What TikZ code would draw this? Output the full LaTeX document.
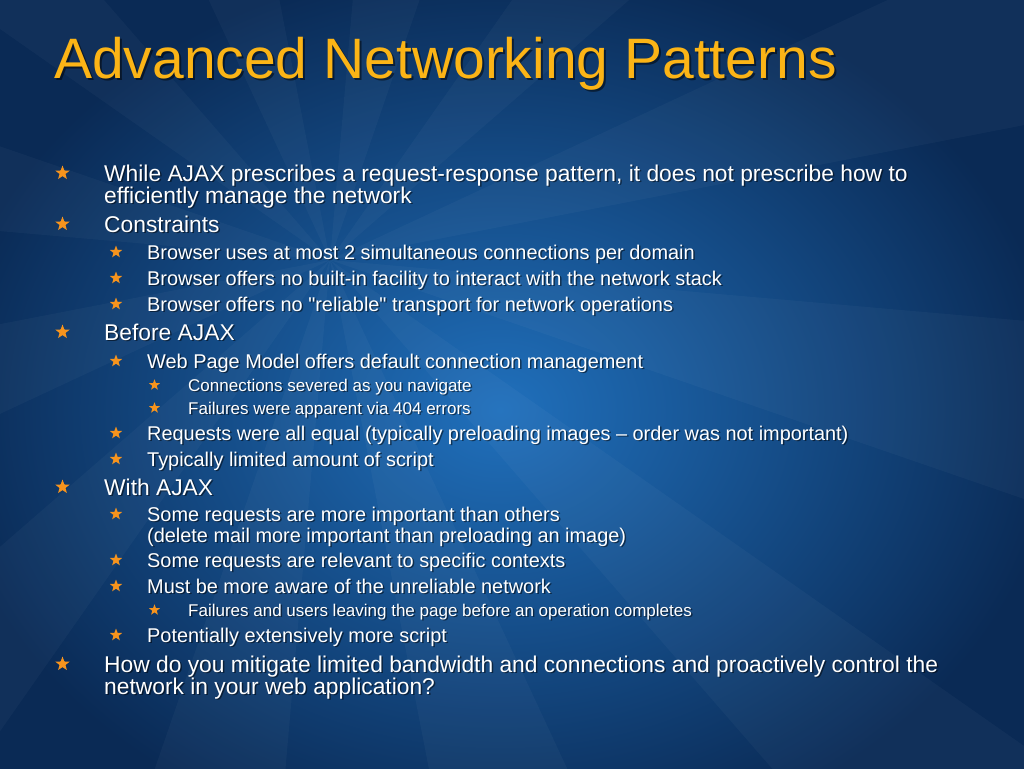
\documentclass[tikz,border=0pt]{standalone}
\usepackage{fontspec}
\setmainfont{Liberation Sans}[Ligatures=TeXOff]
\usetikzlibrary{shapes.geometric}

\definecolor{bgmid}{HTML}{2070BC}
\definecolor{bgedge}{HTML}{0A2A55}
\definecolor{titlec}{HTML}{FBB416}
\definecolor{starc}{HTML}{F7941D}

% one text line with its drop shadow
\newcommand\bline[5]{%
  \node[#1, tshadow] at (#2+1.5,#3+1.5) {#5};
  \node[#1] (#4) at (#2,#3) {#5};
}
% one bullet star
\newcommand\bstarat[4]{%
  \node[bstar, minimum size=#4] (#1) at (#2,#3) {};
}

\begin{document}
\begin{tikzpicture}[x=1pt,y=-1pt]

    \tikzset{
      txt/.style={anchor=base west, inner sep=0pt, text=white},
      lvla/.style={txt, font=\fontsize{22.8}{27}\selectfont},
      lvlb/.style={txt, font=\fontsize{19.9}{24}\selectfont},
      lvlc/.style={txt, font=\fontsize{17}{20}\selectfont},
      tshadow/.style={text=black, text opacity=0.5},
      bstar/.style={star, star points=5, star point ratio=2.4, fill=starc, draw=none, inner sep=0pt},
      ray/.style={fill=white, opacity=0.03},
    }
    \useasboundingbox (0,0) rectangle (1024,768);
    \clip (0,0) rectangle (1024,768);
    \shade[inner color=bgmid, outer color=bgedge] (-60,-40) rectangle (1060,860);
    \coordinate (sun) at (330,260);
    \foreach \a in {5,35,...,335}
      \fill[ray] (sun) -- +(\a:1600) -- +(\a+14:1600) -- cycle;

    % title
    \node[anchor=base west, inner sep=0pt, text=black, text opacity=0.5,
      font=\fontsize{57}{60}\selectfont] at (56,80) {Advanced Networking Patterns};
    \node[anchor=base west, inner sep=0pt, text=titlec,
      font=\fontsize{57}{60}\selectfont] (title) at (54,78) {Advanced Networking Patterns};

    % level one
	\bline{lvla}{104}{181}{a1}{While AJAX prescribes a request-response pattern, it does not prescribe how to}
	\bline{lvla}{104}{203}{a1b}{efficiently manage the network}
	\bline{lvla}{104}{232}{a2}{Constraints}
	\bline{lvla}{104}{340}{a3}{Before AJAX}
	\bline{lvla}{104}{495}{a4}{With AJAX}
	\bline{lvla}{104}{672}{a5}{How do you mitigate limited bandwidth and connections and proactively control the}
	\bline{lvla}{104}{694}{a5b}{network in your web application?}

    % level two
	\bline{lvlb}{147}{259}{b1}{Browser uses at most 2 simultaneous connections per domain}
	\bline{lvlb}{147}{285}{b2}{Browser offers no built-in facility to interact with the network stack}
	\bline{lvlb}{147}{311}{b3}{Browser offers no "reliable" transport for network operations}
	\bline{lvlb}{147}{368}{b4}{Web Page Model offers default connection management}
	\bline{lvlb}{147}{440}{b5}{Requests were all equal (typically preloading images – order was not important)}
	\bline{lvlb}{147}{466}{b6}{Typically limited amount of script}
	\bline{lvlb}{147}{521}{b7}{Some requests are more important than others}
	\bline{lvlb}{147}{542}{b7b}{(delete mail more important than preloading an image)}
	\bline{lvlb}{147}{567}{b8}{Some requests are relevant to specific contexts}
	\bline{lvlb}{147}{593}{b9}{Must be more aware of the unreliable network}
	\bline{lvlb}{147}{642}{b10}{Potentially extensively more script}

    % level three
	\bline{lvlc}{188}{391}{c1}{Connections severed as you navigate}
	\bline{lvlc}{188}{414}{c2}{Failures were apparent via 404 errors}
	\bline{lvlc}{188}{616}{c3}{Failures and users leaving the page before an operation completes}

    % stars
    \foreach \n/\y in {sa1/173,sa2/224,sa3/332,sa4/487,sa5/664}
      {\bstarat{\n}{62.5}{\y}{15pt}}
    \foreach \n/\y in {sb1/252,sb2/278,sb3/304,sb4/361,sb5/433,sb6/459,sb7/514,sb8/560,sb9/586,sb10/635}
      {\bstarat{\n}{116}{\y}{13pt}}
    \foreach \n/\y in {sc1/385,sc2/408,sc3/610}
      {\bstarat{\n}{154.5}{\y}{11.5pt}}

\end{tikzpicture}
\end{document}
